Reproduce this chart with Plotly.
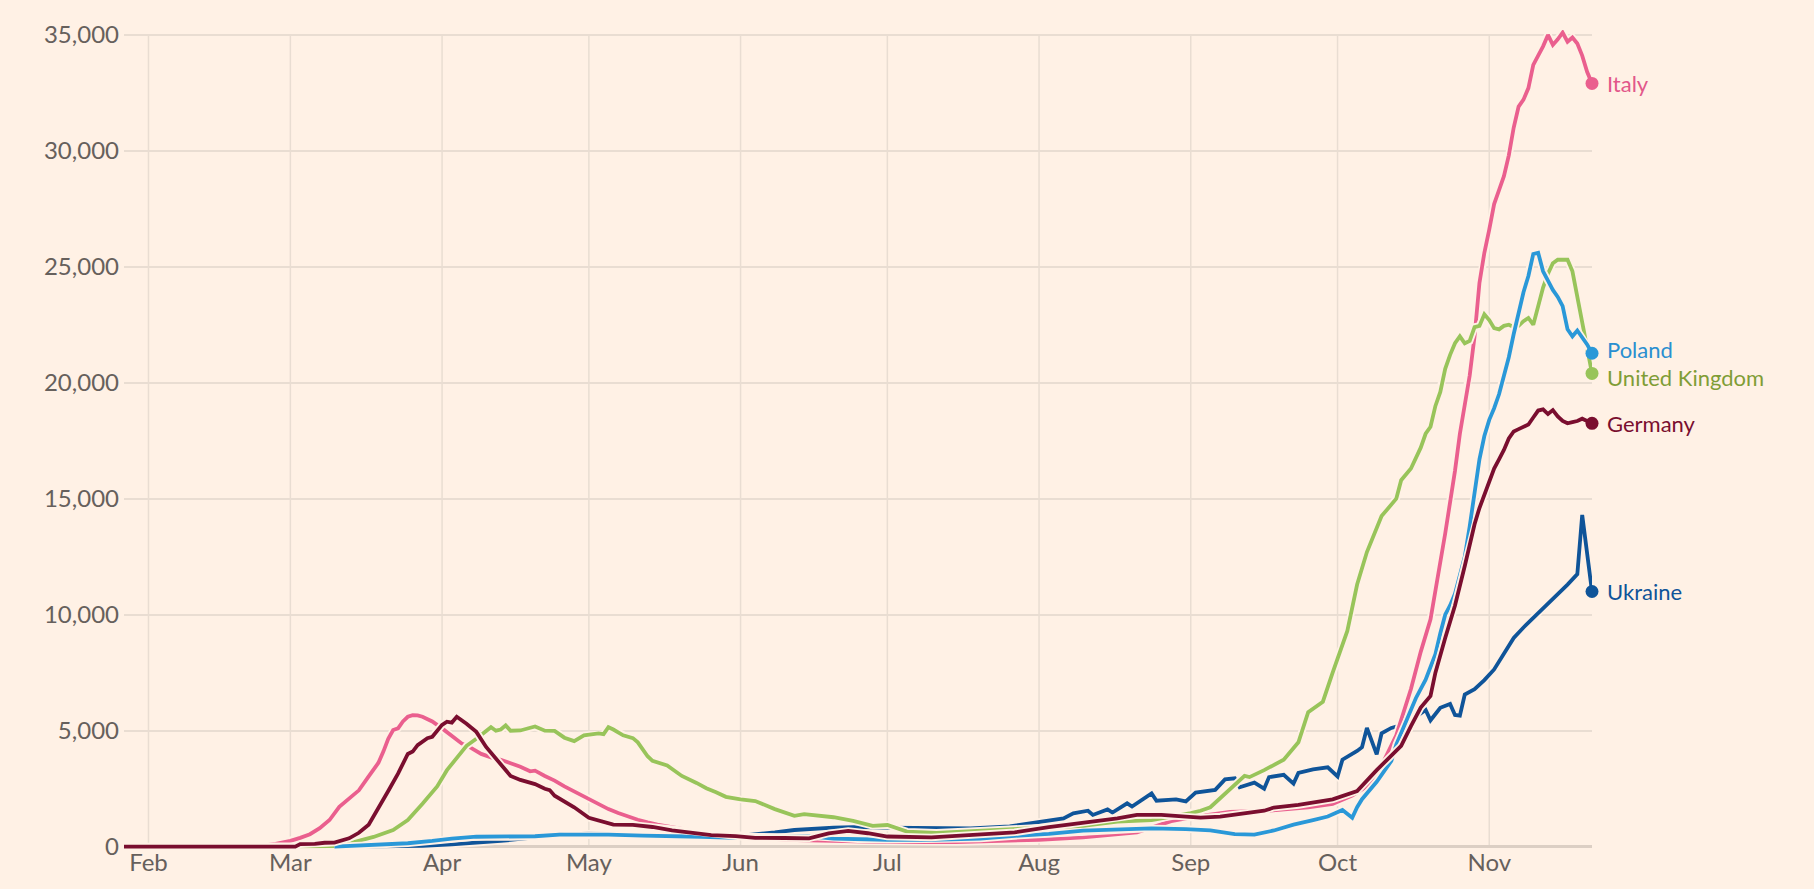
import plotly.graph_objects as go

# ---------------- data (7-day average of new daily cases) ----------------
italy_dates = ["2020-01-27","2020-02-21","2020-02-24","2020-02-27","2020-03-01","2020-03-03","2020-03-05","2020-03-07","2020-03-09","2020-03-11","2020-03-13","2020-03-15","2020-03-17","2020-03-19","2020-03-20","2020-03-21","2020-03-22","2020-03-23","2020-03-24","2020-03-25","2020-03-26","2020-03-27","2020-03-28","2020-03-30","2020-04-01","2020-04-03","2020-04-05","2020-04-07","2020-04-09","2020-04-11","2020-04-13","2020-04-15","2020-04-17","2020-04-19","2020-04-20","2020-04-22","2020-04-24","2020-04-26","2020-04-28","2020-05-01","2020-05-03","2020-05-05","2020-05-07","2020-05-09","2020-05-11","2020-05-13","2020-05-15","2020-05-20","2020-05-26","2020-05-31","2020-06-05","2020-06-10","2020-06-20","2020-07-01","2020-07-15","2020-07-25","2020-08-01","2020-08-10","2020-08-21","2020-08-28","2020-09-02","2020-09-09","2020-09-17","2020-09-25","2020-09-30","2020-10-04","2020-10-07","2020-10-10","2020-10-13","2020-10-16","2020-10-18","2020-10-20","2020-10-21","2020-10-23","2020-10-25","2020-10-26","2020-10-28","2020-10-29","2020-10-30","2020-10-31","2020-11-01","2020-11-02","2020-11-03","2020-11-04","2020-11-05","2020-11-06","2020-11-07","2020-11-08","2020-11-09","2020-11-10","2020-11-11","2020-11-12","2020-11-13","2020-11-14","2020-11-15","2020-11-16","2020-11-17","2020-11-18","2020-11-19","2020-11-20","2020-11-21","2020-11-22"]
italy_cases = [0,0,40,120,250,380,540,800,1150,1720,2080,2430,3030,3620,4100,4650,5030,5100,5400,5600,5670,5660,5600,5400,5100,4750,4450,4250,4000,3850,3750,3600,3450,3250,3280,3050,2850,2600,2380,2050,1800,1620,1450,1300,1160,1050,950,770,590,500,380,300,250,200,200,250,300,400,620,1100,1300,1500,1550,1700,1850,2200,2600,3500,4800,6800,8400,9800,11000,13500,16200,17800,20300,22000,24300,25600,26600,27700,28300,28900,29800,31000,31900,32200,32700,33700,34100,34500,34990,34560,34800,35090,34700,34880,34620,34100,33400,32900]

germany_dates = ["2020-01-27","2020-03-02","2020-03-03","2020-03-06","2020-03-08","2020-03-10","2020-03-13","2020-03-15","2020-03-17","2020-03-18","2020-03-19","2020-03-21","2020-03-23","2020-03-24","2020-03-25","2020-03-26","2020-03-27","2020-03-29","2020-03-30","2020-04-01","2020-04-02","2020-04-03","2020-04-04","2020-04-06","2020-04-08","2020-04-10","2020-04-12","2020-04-14","2020-04-15","2020-04-17","2020-04-20","2020-04-22","2020-04-23","2020-04-24","2020-04-26","2020-04-28","2020-05-01","2020-05-04","2020-05-06","2020-05-10","2020-05-14","2020-05-18","2020-05-22","2020-05-26","2020-05-31","2020-06-04","2020-06-10","2020-06-15","2020-06-19","2020-06-23","2020-06-27","2020-07-01","2020-07-10","2020-07-19","2020-07-27","2020-08-03","2020-08-10","2020-08-17","2020-08-21","2020-08-26","2020-08-31","2020-09-03","2020-09-07","2020-09-12","2020-09-16","2020-09-18","2020-09-23","2020-09-30","2020-10-05","2020-10-09","2020-10-12","2020-10-14","2020-10-16","2020-10-18","2020-10-20","2020-10-21","2020-10-23","2020-10-25","2020-10-27","2020-10-29","2020-10-30","2020-11-01","2020-11-02","2020-11-03","2020-11-04","2020-11-05","2020-11-06","2020-11-07","2020-11-08","2020-11-09","2020-11-10","2020-11-11","2020-11-12","2020-11-13","2020-11-14","2020-11-15","2020-11-16","2020-11-17","2020-11-18","2020-11-19","2020-11-20","2020-11-21","2020-11-22"]
germany_cases = [0,0,110,120,170,180,360,600,950,1300,1700,2400,3150,3600,4000,4100,4380,4680,4740,5250,5390,5350,5600,5300,4950,4300,3800,3300,3050,2880,2700,2500,2440,2200,1950,1700,1250,1050,950,940,850,700,620,500,460,380,375,360,570,680,580,440,400,500,620,840,1030,1220,1370,1370,1300,1250,1300,1420,1550,1690,1800,2040,2400,3300,3950,4350,5200,6000,6500,7500,9000,10400,12100,13900,14600,15800,16300,16700,17100,17600,17900,18000,18100,18200,18500,18800,18850,18650,18820,18550,18350,18250,18300,18350,18450,18350,18250]

uk_dates = ["2020-01-27","2020-03-08","2020-03-10","2020-03-14","2020-03-18","2020-03-22","2020-03-25","2020-03-28","2020-03-31","2020-04-02","2020-04-04","2020-04-06","2020-04-08","2020-04-10","2020-04-11","2020-04-12","2020-04-13","2020-04-14","2020-04-15","2020-04-17","2020-04-19","2020-04-20","2020-04-22","2020-04-24","2020-04-26","2020-04-28","2020-04-30","2020-05-03","2020-05-04","2020-05-05","2020-05-06","2020-05-08","2020-05-10","2020-05-11","2020-05-13","2020-05-14","2020-05-17","2020-05-20","2020-05-23","2020-05-25","2020-05-27","2020-05-29","2020-06-01","2020-06-04","2020-06-08","2020-06-12","2020-06-14","2020-06-20","2020-06-24","2020-06-28","2020-07-01","2020-07-05","2020-07-11","2020-07-20","2020-07-27","2020-08-03","2020-08-10","2020-08-17","2020-08-24","2020-09-01","2020-09-03","2020-09-05","2020-09-08","2020-09-12","2020-09-13","2020-09-16","2020-09-20","2020-09-23","2020-09-25","2020-09-28","2020-09-30","2020-10-03","2020-10-05","2020-10-07","2020-10-10","2020-10-13","2020-10-14","2020-10-16","2020-10-18","2020-10-19","2020-10-20","2020-10-21","2020-10-22","2020-10-23","2020-10-24","2020-10-25","2020-10-26","2020-10-27","2020-10-28","2020-10-29","2020-10-30","2020-10-31","2020-11-01","2020-11-02","2020-11-03","2020-11-04","2020-11-05","2020-11-06","2020-11-07","2020-11-08","2020-11-09","2020-11-10","2020-11-11","2020-11-12","2020-11-13","2020-11-14","2020-11-15","2020-11-16","2020-11-17","2020-11-18","2020-11-19","2020-11-20","2020-11-21","2020-11-22"]
uk_cases = [0,0,30,200,420,720,1150,1850,2600,3300,3850,4350,4650,4950,5150,5000,5050,5230,5000,5010,5150,5180,5000,4990,4700,4550,4800,4880,4850,5150,5050,4800,4680,4500,3900,3700,3500,3050,2750,2520,2350,2150,2040,1970,1620,1330,1400,1270,1110,900,935,650,600,690,790,840,900,1080,1150,1450,1550,1700,2300,3050,3000,3300,3750,4500,5800,6250,7500,9300,11300,12700,14250,15000,15800,16300,17200,17800,18100,19000,19600,20600,21200,21700,22000,21700,21800,22400,22450,22950,22700,22350,22300,22450,22500,22400,22450,22650,22790,22500,23300,24100,24700,25150,25300,25300,25300,24800,23700,22400,21400,20400]

poland_dates = ["2020-03-10","2020-03-15","2020-03-20","2020-03-25","2020-03-30","2020-04-03","2020-04-08","2020-04-15","2020-04-20","2020-04-25","2020-04-30","2020-05-05","2020-05-12","2020-05-18","2020-05-24","2020-05-31","2020-06-05","2020-06-10","2020-06-15","2020-06-20","2020-06-25","2020-07-01","2020-07-10","2020-07-20","2020-07-28","2020-08-03","2020-08-10","2020-08-17","2020-08-24","2020-08-31","2020-09-05","2020-09-10","2020-09-14","2020-09-18","2020-09-22","2020-09-26","2020-09-29","2020-10-02","2020-10-03","2020-10-04","2020-10-05","2020-10-06","2020-10-09","2020-10-12","2020-10-13","2020-10-14","2020-10-16","2020-10-17","2020-10-19","2020-10-21","2020-10-22","2020-10-23","2020-10-24","2020-10-25","2020-10-26","2020-10-27","2020-10-28","2020-10-29","2020-10-30","2020-10-31","2020-11-01","2020-11-02","2020-11-03","2020-11-04","2020-11-05","2020-11-06","2020-11-07","2020-11-08","2020-11-09","2020-11-10","2020-11-11","2020-11-12","2020-11-13","2020-11-14","2020-11-15","2020-11-16","2020-11-17","2020-11-18","2020-11-19","2020-11-20","2020-11-21","2020-11-22"]
poland_cases = [0,40,100,150,250,350,430,420,450,520,540,520,480,470,430,380,370,420,450,350,320,300,300,350,480,550,690,760,790,760,700,540,520,700,950,1150,1300,1580,1400,1250,1700,2050,2800,3700,4400,4900,5900,6400,7200,8300,9200,10000,10400,10900,11700,12500,13800,15300,16700,17700,18400,18900,19500,20300,21100,22100,23000,23900,24600,25550,25600,24800,24400,24000,23700,23300,22300,22000,22250,21950,21650,21270]

ukraine_dates = ["2020-03-13","2020-03-20","2020-03-28","2020-04-03","2020-04-08","2020-04-13","2020-04-20","2020-04-25","2020-05-01","2020-05-10","2020-05-15","2020-05-25","2020-06-01","2020-06-08","2020-06-12","2020-06-20","2020-06-24","2020-07-01","2020-07-08","2020-07-18","2020-07-26","2020-08-01","2020-08-06","2020-08-08","2020-08-11","2020-08-12","2020-08-15","2020-08-16","2020-08-19","2020-08-20","2020-08-24","2020-08-25","2020-08-29","2020-08-31","2020-09-02","2020-09-06","2020-09-08","2020-09-10","2020-09-11","2020-09-14","2020-09-16","2020-09-17","2020-09-20","2020-09-22","2020-09-23","2020-09-26","2020-09-29","2020-10-01","2020-10-02","2020-10-05","2020-10-06","2020-10-07","2020-10-09","2020-10-10","2020-10-12","2020-10-15","2020-10-17","2020-10-19","2020-10-20","2020-10-22","2020-10-24","2020-10-25","2020-10-26","2020-10-27","2020-10-29","2020-10-31","2020-11-02","2020-11-04","2020-11-06","2020-11-08","2020-11-11","2020-11-13","2020-11-15","2020-11-17","2020-11-19","2020-11-20","2020-11-22"]
ukraine_cases = [0,10,40,100,170,250,400,520,560,560,540,450,480,620,720,820,840,820,800,790,880,1080,1220,1440,1550,1370,1610,1470,1870,1730,2300,1980,2040,1950,2330,2450,2900,2950,2560,2760,2500,3000,3100,2720,3180,3330,3420,3030,3750,4130,4290,5120,3980,4890,5120,5300,5600,5900,5450,5990,6150,5680,5650,6560,6790,7180,7640,8300,9000,9450,10060,10500,10860,11300,11750,14300,11000]

month_ticks = ["2020-02-01","2020-03-01","2020-04-01","2020-05-01","2020-06-01","2020-07-01","2020-08-01","2020-09-01","2020-10-01","2020-11-01"]
month_labels = ["Feb","Mar","Apr","May","Jun","Jul","Aug","Sep","Oct","Nov"]
y_ticks = [0, 5000, 10000, 15000, 20000, 25000, 30000, 35000]
y_labels = ["0", "5,000", "10,000", "15,000", "20,000", "25,000", "30,000", "35,000"]

# ---------------- styling ----------------
BG = "#fff1e5"
GRID = "#e9ddd2"
TEXT = "#66605c"
FONT = "Lato, 'Open Sans', sans-serif"

# drawing order bottom -> top; last item = vertical nudge of the end label
series = [
    ("Ukraine", ukraine_dates, ukraine_cases, "#0f5499", "#0f5499", 0),
    ("Italy", italy_dates, italy_cases, "#ea5f8e", "#e2578a", 0),
    ("United Kingdom", uk_dates, uk_cases, "#98c45a", "#7f9d36", -4),
    ("Poland", poland_dates, poland_cases, "#2a98d8", "#2a8fd0", 4),
    ("Germany", germany_dates, germany_cases, "#7a0e2f", "#7a0e2f", 0),
]

fig = go.Figure()
for name, d, v, col, _, _ in series:
    fig.add_trace(go.Scatter(x=d, y=v, mode="lines", line=dict(color=BG, width=7.5),
                             hoverinfo="skip", showlegend=False))
    fig.add_trace(go.Scatter(x=d, y=v, mode="lines", name=name,
                             line=dict(color=col, width=3.8), showlegend=False))

for name, d, v, col, lab, ys in series:
    fig.add_trace(go.Scatter(x=[d[-1]], y=[v[-1]], mode="markers",
                             marker=dict(color=col, size=13), cliponaxis=False,
                             hoverinfo="skip", showlegend=False))
    fig.add_annotation(x=d[-1], y=v[-1], text=name, showarrow=False,
                       xanchor="left", yanchor="middle", xshift=13, yshift=ys,
                       font=dict(family=FONT, size=22, color=lab))

# vertical month gridlines, from 0 to the top gridline
for m in month_ticks:
    fig.add_shape(type="line", x0=m, x1=m, y0=0, y1=35000, xref="x", yref="y",
                  line=dict(color=GRID, width=1.5), layer="below")

fig.update_layout(
    width=1814, height=889,
    paper_bgcolor=BG, plot_bgcolor=BG,
    margin=dict(l=124, r=222, t=30, b=39, pad=0),
    font=dict(family=FONT, size=23, color=TEXT),
    showlegend=False,
    xaxis=dict(type="date", range=["2020-01-27", "2020-11-22"],
               tickvals=month_ticks, ticktext=month_labels,
               showgrid=False, zeroline=False, showline=False,
               ticks="", ticklabelstandoff=-4,
               tickfont=dict(family=FONT, size=24, color=TEXT)),
    yaxis=dict(range=[-142, 35203], tickvals=y_ticks, ticktext=y_labels,
               showgrid=True, gridcolor=GRID, gridwidth=1.5,
               zeroline=True, zerolinecolor="#dccfc4", zerolinewidth=2.5,
               showline=False, ticks="", ticklabelstandoff=4,
               tickfont=dict(family=FONT, size=24, color=TEXT)),
)

fig.write_html("out.html")
